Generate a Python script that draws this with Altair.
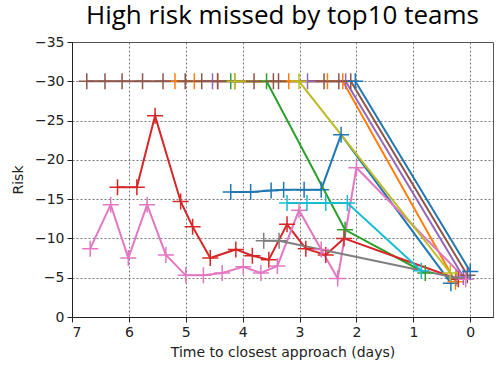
import altair as alt
import pandas as pd

# Series identifiers (matplotlib tab10 colour cycle order)
series_names = ["s01", "s02", "s03", "s04", "s05", "s06", "s07", "s08", "s09", "s10", "s11"]
series_colors = ["#1f77b4", "#ff7f0e", "#2ca02c", "#d62728", "#9467bd", "#8c564b",
                 "#e377c2", "#7f7f7f", "#bcbd22", "#17becf", "#1f77b4"]

days_s01 = [4.21, 3.86, 3.50, 3.28, 2.92, 2.62, 2.27, 0.34]
risk_s01 = [-15.9, -15.9, -16.1, -16.2, -16.2, -16.2, -23.2, -4.3]

days_s02 = [5.19, 4.85, 4.44, 3.19, 2.51, 2.24, 0.26]
risk_s02 = [-30, -30, -30, -30, -30, -30, -4.5]

days_s03 = [4.21, 3.58, 2.20, 0.79]
risk_s03 = [-30, -30, -11.1, -5.6]

days_s04 = [6.20, 5.86, 5.54, 5.09, 4.88, 4.57, 4.12, 3.83, 3.54, 3.22, 2.89, 2.54, 2.22, 0.21]
risk_s04 = [-16.5, -16.5, -25.6, -14.7, -11.5, -7.5, -8.6, -7.8, -7.3, -11.8, -8.7, -7.9, -10.0, -4.8]

days_s05 = [4.53, 2.86, 2.19, 0.12]
risk_s05 = [-30, -30, -30, -5.1]

days_s06 = [6.74, 6.42, 6.12, 5.76, 5.40, 5.01, 4.72, 4.44, 4.14, 3.80, 3.46, 3.37, 2.57, 2.31, 2.10, 0.05]
risk_s06 = [-30, -30, -30, -30, -30, -30, -30, -30, -30, -30, -30, -30, -30, -30, -30, -5.3]

days_s07 = [6.68, 6.32, 6.01, 5.68, 5.35, 5.00, 4.69, 4.36, 3.99, 3.68, 3.39, 3.01, 2.62, 2.33, 2.00, 0.08]
risk_s07 = [-8.7, -14.3, -7.5, -14.3, -7.9, -5.3, -5.3, -5.6, -6.4, -5.6, -6.5, -13.6, -8.6, -4.9, -19.0, -4.8]

days_s08 = [3.63, 3.36, 0.25]
risk_s08 = [-9.7, -9.7, -5.0]

days_s09 = [4.14, 3.01, 0.35]
risk_s09 = [-30, -30, -5.6]

days_s10 = [3.22, 2.87, 2.54, 2.16, 0.86]
risk_s10 = [-14.5, -14.5, -14.5, -14.5, -5.9]

days_s11 = [2.02, 0.00]
risk_s11 = [-30, -5.8]

x_ticks = [7, 6, 5, 4, 3, 2, 1, 0]
y_ticks = [0, -5, -10, -15, -20, -25, -30, -35]

all_days = [days_s01, days_s02, days_s03, days_s04, days_s05, days_s06,
            days_s07, days_s08, days_s09, days_s10, days_s11]
all_risk = [risk_s01, risk_s02, risk_s03, risk_s04, risk_s05, risk_s06,
            risk_s07, risk_s08, risk_s09, risk_s10, risk_s11]

rows = []
for name, ds, rs in zip(series_names, all_days, all_risk):
    for i, (d, r) in enumerate(zip(ds, rs)):
        rows.append({"series": name, "days": d, "risk": r, "idx": i})
df = pd.DataFrame(rows)

axis_font = "DejaVu Sans"

x_enc = alt.X(
    "days:Q",
    scale=alt.Scale(domain=[7, -0.4], nice=False, zero=False),
    axis=alt.Axis(values=x_ticks, title="Time to closest approach (days)", format="d",
                  grid=True, gridDash=[2, 2], gridColor="#555555", gridWidth=0.8,
                  tickSize=5, labelPadding=3, titlePadding=6),
)
y_enc = alt.Y(
    "risk:Q",
    scale=alt.Scale(domain=[0, -35], nice=False),
    axis=alt.Axis(values=y_ticks, title="Risk", format="d",
                  grid=True, gridDash=[2, 2], gridColor="#555555", gridWidth=0.8,
                  tickSize=5, labelPadding=3, titlePadding=9),
)
color_enc = alt.Color("series:N", scale=alt.Scale(domain=series_names, range=series_colors), legend=None)

lines = alt.Chart(df).mark_line(strokeWidth=2, clip=True).encode(
    x=x_enc, y=y_enc, color=color_enc, order="idx:Q"
)
points = alt.Chart(df).mark_point(
    shape="M-1,0L1,0M0,-1L0,1", size=256, filled=False, strokeWidth=1.5, opacity=1, clip=True
).encode(x=x_enc, y=y_enc, color=color_enc)

chart = alt.layer(lines, points).properties(
    width=421,
    height=275,
    background="white",
    autosize=alt.AutoSizeParams(type="none"),
    padding={"left": 72, "top": 42, "right": 7, "bottom": 51},
    title=alt.TitleParams("High risk missed by top10 teams", font="Open Sans", fontSize=26,
                          fontWeight="normal", anchor="middle", color="#000000", offset=6),
).configure_axis(
    labelFont=axis_font, titleFont=axis_font, labelFontSize=14, titleFontSize=14,
    labelColor="#222222", titleColor="#222222", titleFontWeight="normal",
    domainColor="#222222", tickColor="#222222",
).configure_view(stroke="#555555", strokeWidth=1)

chart.save("out.html", embed_options={"renderer": "svg", "actions": False})
